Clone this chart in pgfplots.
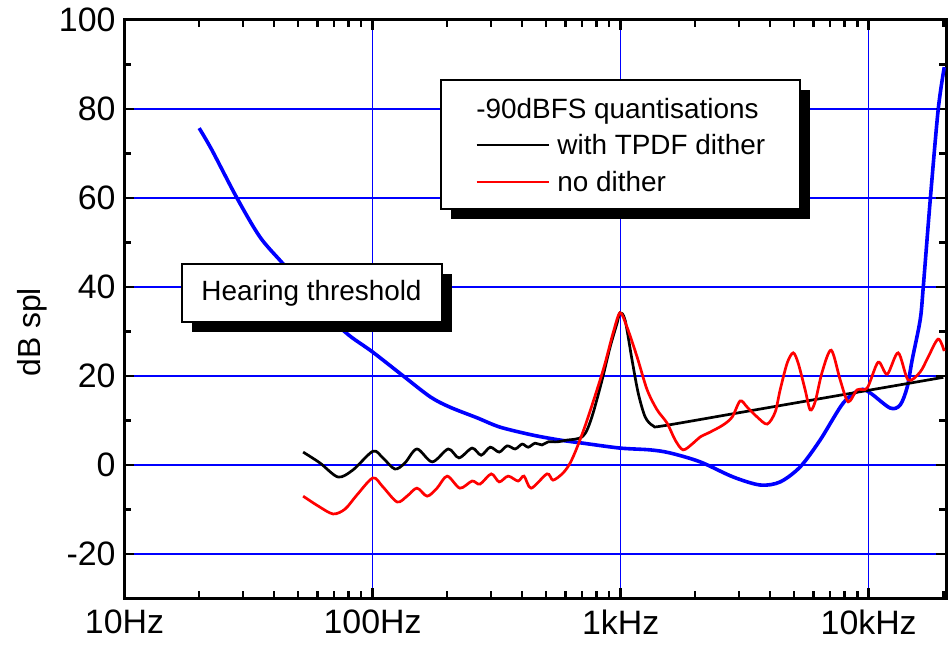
\documentclass[border=0pt]{standalone}
\usepackage{fontspec}
\setmainfont{Liberation Sans}
\usepackage{pgfplots}
\pgfplotsset{compat=1.18}

\begin{document}
\begin{tikzpicture}
\begin{axis}[
  xmode=log, log basis x=10,
  xmin=10, xmax=20500, ymin=-30, ymax=100,
  width=410.75bp, height=289.25bp, scale only axis,
  xtick={10,100,1000,10000}, xticklabels={10Hz,100Hz,1kHz,10kHz},
  minor xtick={20,30,40,50,60,70,80,90,200,300,400,500,600,700,800,900,
    2000,3000,4000,5000,6000,7000,8000,9000,20000},
  ytick={-20,0,20,40,60,80,100}, yticklabels={-20,0,20,40,60,80,100},
  minor ytick={-30,-10,10,30,50,70,90},
  grid=major, grid style={blue, line width=0.7bp},
  minor grid style={draw=none},
  axis line style={line width=1.5bp},
  tick style={black, line width=1.2bp},
  major tick length=5bp, minor tick length=3.5bp,
  tick align=inside,
  ticklabel style={font=\fontsize{17}{20}\selectfont},
  xticklabel style={yshift=-2bp},
  yticklabel style={xshift=-1bp},
  ylabel={dB spl},
  every axis y label/.style={at={(axis description cs:0,0.46)}, xshift=-46bp,
    rotate=90, anchor=center, font=\fontsize{16}{19}\selectfont},
  clip=false,
]
% hearing threshold
\addplot[blue, line width=1.8bp, smooth, tension=0.5] coordinates {
(20,75.7)(22.5,70.8)(28.4,60.0)(35.2,51.2)(43.6,45.2)(56,38.2)(67.4,33.0)(81,29.0)
(100,25.4)(133,20.0)(171,15.3)(205,13.0)(264,10.6)(327,8.5)(444,6.7)(570,5.6)
(706,4.9)(995,3.8)(1315,3.4)(1585,2.7)(2094,0.7)(2845,-2.7)(3657,-4.5)(4398,-3.8)
(5300,-0.4)(6372,5.6)(7890,13.9)(9245,16.9)(10140,16.2)(12210,12.8)(13400,13.5)
(14300,17.5)(14970,23.6)(16130,32.6)(16600,40)(17710,59.6)(19060,79.8)(20170,89.4)
};
% with TPDF dither
\addplot[black, line width=1.35bp, smooth, tension=0.5] coordinates {
(52.5,2.9)(61.4,0.45)(72.6,-2.7)(83.4,-1.1)(100.4,3.1)(110,1.6)(123,-0.9)(135,0.45)
(151,3.6)(174,0.7)(202,3.6)(223,1.6)(252,3.8)(274,2.2)(298,4.0)(324,2.9)(349,4.3)
(376,3.6)(401,4.7)(424,4.0)(452,4.9)(482,4.5)(510,5.2)(555,5.2)(608,5.6)(655,5.8)
(699,6.3)(733,7.9)(775,11.7)(842,19.1)(907,26.5)(968,31.9)(995,34.2)(1042,32.6)
(1112,23.6)(1177,16.2)(1256,10.8)(1353,8.8)(1484,8.8)(3000,11.75)(6000,14.66)
(12000,17.56)(20000,19.7)
};
% no dither
\addplot[red, line width=1.35bp, smooth, tension=0.5] coordinates {
(52.5,-7.0)(60.3,-9.2)(69.3,-11.0)(77.5,-9.9)(86.6,-6.7)(100.4,-2.9)(110,-4.9)
(125.6,-8.3)(137.7,-7.0)(151,-5.2)(166,-7.0)(182,-5.2)(200,-2.5)(225,-5.2)(252,-3.6)
(271,-4.3)(301,-2.0)(324,-3.8)(352,-2.5)(386,-3.6)(408,-2.5)(436,-5.2)(505,-2.0)
(534,-3.4)(586,-1.8)(626,0.45)(668,4.0)(733,10.1)(850,21.3)(933,29.7)(995,34.2)
(1061,31.0)(1165,24.3)(1279,16.9)(1403,12.4)(1540,9.4)(1660,5.6)(1787,3.4)(1960,4.9)
(2093,6.3)(2296,7.4)(2590,9.0)(2818,10.8)(3034,14.4)(3238,13.0)(3550,10.8)(3899,9.2)
(4199,11.9)(4398,16.9)(4692,22.9)(4963,25.2)(5197,22.9)(5545,16.9)(5808,12.4)
(6084,14.2)(6494,20.9)(7064,25.8)(7678,19.1)(8265,14.2)(8987,16.9)(9862,17.3)
(10920,23.1)(11875,20.4)(13150,25.2)(14430,19.1)(16130,20.9)(17380,24.3)(19060,28.3)
(20170,25.6)
};

% hearing threshold label box
\fill[black] ([shift={(5bp,-5bp)}]rel axis cs:0.0700,0.5782) rectangle ([shift={(5bp,-5bp)}]rel axis cs:0.3865,0.4780);
\draw[fill=white, line width=0.6bp] (rel axis cs:0.0700,0.5782) rectangle (rel axis cs:0.3865,0.4780);
\node[font=\fontsize{14}{16}\selectfont] at (rel axis cs:0.2276,0.5281) {Hearing threshold};

% legend box
\fill[black] ([shift={(5bp,-5bp)}]rel axis cs:0.3853,0.8963) rectangle ([shift={(5bp,-5bp)}]rel axis cs:0.8223,0.6733);
\draw[fill=white, line width=0.6bp] (rel axis cs:0.3853,0.8963) rectangle (rel axis cs:0.8223,0.6733);
\node[font=\fontsize{14}{16}\selectfont] at (rel axis cs:0.6001,0.8427) {-90dBFS quantisations};
\draw[black, line width=1.35bp] (rel axis cs:0.4285,0.7839) -- (rel axis cs:0.5173,0.7839);
\node[font=\fontsize{14}{16}\selectfont, anchor=west, inner sep=0pt] at (rel axis cs:0.5265,0.7839) {with TPDF dither};
\draw[red, line width=1.35bp] (rel axis cs:0.4285,0.7200) -- (rel axis cs:0.5173,0.7200);
\node[font=\fontsize{14}{16}\selectfont, anchor=west, inner sep=0pt] at (rel axis cs:0.5265,0.7200) {no dither};
\end{axis}
\pgfresetboundingbox
\useasboundingbox ([shift={(-62.25bp,-24bp)}]current axis.south west) rectangle ([shift={(1bp,10bp)}]current axis.north east);
\end{tikzpicture}
\end{document}
